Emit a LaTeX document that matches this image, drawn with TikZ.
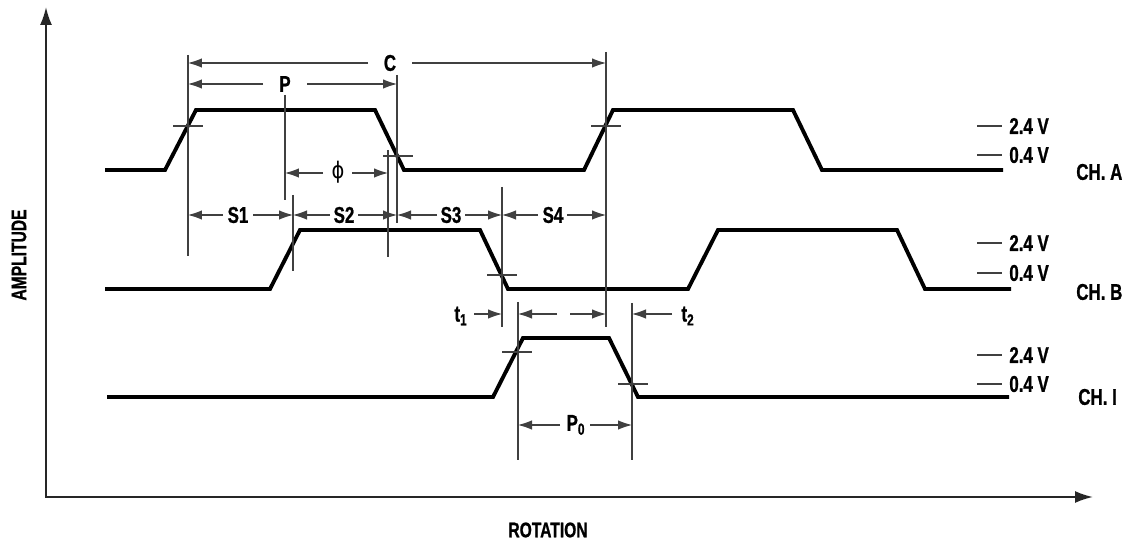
\documentclass[tikz,border=0pt]{standalone}
\usepackage{fontspec}
\newfontfamily\lblfont{Liberation Sans}[FakeStretch=0.74, FakeBold=1]
\newfontfamily\greekfont{DejaVu Sans}[FakeStretch=0.85]
\usetikzlibrary{arrows.meta}

\tikzset{
  wave/.style={line width=2.2pt, line join=miter},
  guide/.style={line width=0.6pt, draw=black!75},
  dim/.style={guide, -{Latex[length=0.28cm,width=0.19cm]}},
  axis/.style={line width=1.1pt, draw=black!85},
  lbl/.style={font=\lblfont\bfseries\fontsize{13}{15}\selectfont, inner sep=0pt},
  axlbl/.style={font=\lblfont\bfseries\fontsize{12}{14}\selectfont, inner sep=0pt}
}

\begin{document}
\begin{tikzpicture}[x=0.02cm, y=-0.02cm]
\useasboundingbox (0,0) rectangle (1123,540);

% axes
\draw[axis, {Latex[length=0.36cm,width=0.24cm]}-{Latex[length=0.36cm,width=0.24cm]}] (46,7) -- (46,497) -- (1093,497);
\node[axlbl, rotate=90] (amp) at (19,255) {AMPLITUDE};
\node[axlbl] (rot) at (548,530) {ROTATION};

% channels
\draw[wave] (105,170) -- (165,170) -- (196,110) -- (375,110) -- (404,170) -- (584,170) -- (613,110) -- (793,110) -- (822,170) -- (1003,170);
\draw[wave] (105,289) -- (270,289) -- (300,230) -- (480,230) -- (508,289) -- (688,289) -- (718,230) -- (897,230) -- (925,289) -- (1011,289);
\draw[wave] (107,397) -- (493,397) -- (523,338) -- (609,338) -- (638,397) -- (1009,397);

% guide lines
\foreach \x/\a/\b in {188/55/256, 285/95/200, 397/75/223, 388/150/257, 293/195/271, 502/187/327, 606/52/327, 518/302/460, 632/303/460}
  \draw[guide] (\x,\a) -- (\x,\b);

% level crossings
\foreach \x/\y in {188/126, 398/156, 606/126, 502/275, 517/352, 633/384}
  \draw[guide] (\x-15,\y) -- (\x+15,\y);

% dimensions
\draw[dim] (368,63) -- (188,63);
\draw[dim] (412,63) -- (606,63);
\node[lbl] (c) at (390,63) {C};
\draw[dim] (263,84) -- (188,84);
\draw[dim] (307,84) -- (397,84);
\node[lbl] (p) at (285,84) {P};
\draw[dim] (323,173) -- (285,173);
\draw[dim] (352,173) -- (388,173);
\node[font=\greekfont\fontsize{13}{15}\selectfont, inner sep=0pt] (phi) at (338,172) {ϕ};

\draw[dim] (223,215) -- (188,215);
\draw[dim] (253,215) -- (293,215);
\node[lbl] (s1) at (238,215) {S1};
\draw[dim] (330,215) -- (293,215);
\draw[dim] (358,215) -- (397,215);
\node[lbl] (s2) at (344,215) {S2};
\draw[dim] (437,215) -- (397,215);
\draw[dim] (465,215) -- (502,215);
\node[lbl] (s3) at (451,215) {S3};
\draw[dim] (538,215) -- (502,215);
\draw[dim] (567,215) -- (606,215);
\node[lbl] (s4) at (553,215) {S4};

\draw[dim] (474,314) -- (502,314);
\node[lbl] (t1) at (461,316) {t\textsubscript{1}};
\draw[dim] (557,314) -- (518,314);
\draw[dim] (570,314) -- (606,314);
\draw[dim] (672,314) -- (632,314);
\node[lbl] (t2) at (688,316) {t\textsubscript{2}};

\draw[dim] (560,425) -- (518,425);
\draw[dim] (590,425) -- (632,425);
\node[lbl] (p0) at (576,425) {P\textsubscript{0}};

% levels
\foreach \y/\v in {126/2.4, 155/0.4, 243/2.4, 273/0.4, 355/2.4, 384/0.4} {
  \draw[guide] (977,\y) -- (1002,\y);
  \node[lbl, anchor=west] (v\y) at (1009,\y) {\v\ V};
}
\node[lbl, anchor=west] (cha) at (1076,172) {CH. A};
\node[lbl, anchor=west] (chb) at (1076,292) {CH. B};
\node[lbl, anchor=west] (chi) at (1078,397) {CH. I};
\end{tikzpicture}
\end{document}
